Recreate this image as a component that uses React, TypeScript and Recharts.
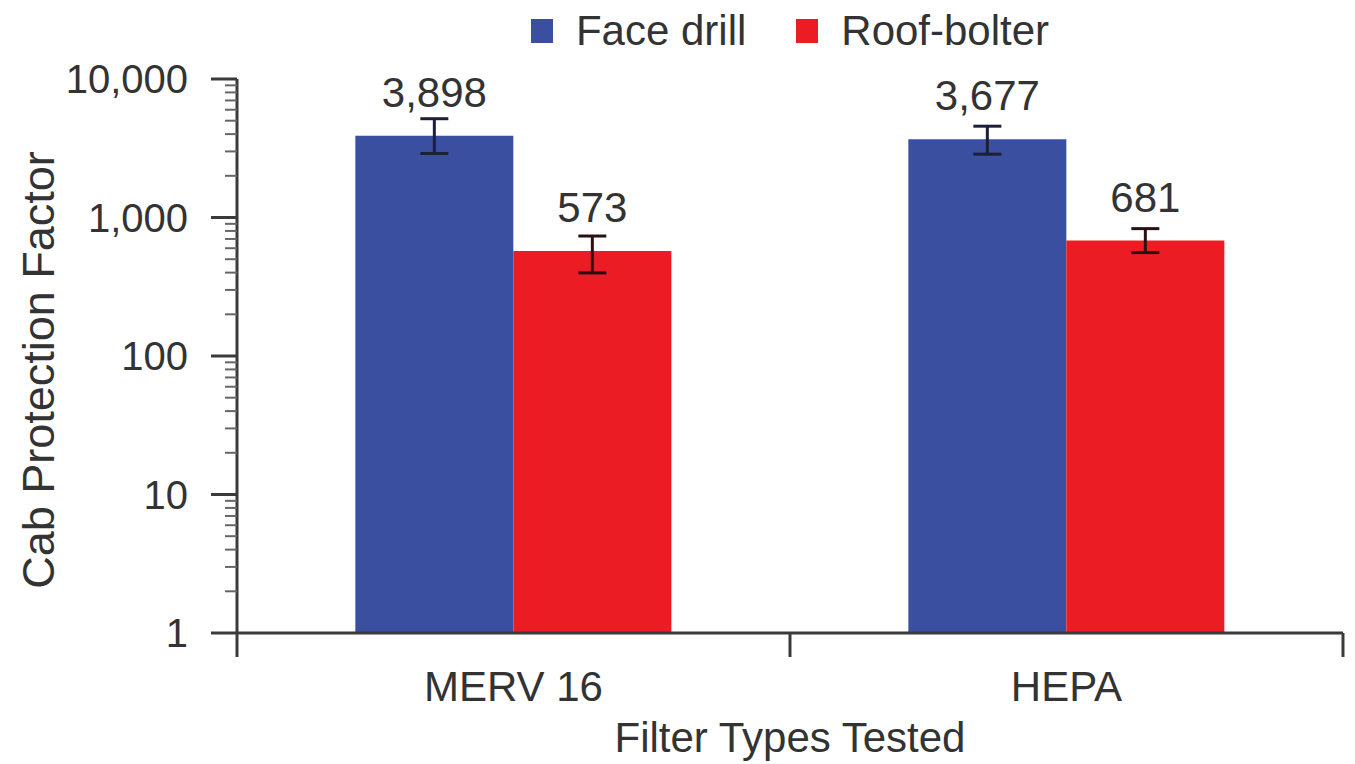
import { Bar, BarChart, ErrorBar, LabelList, Legend, XAxis, YAxis } from 'recharts';

const FILTERS = ['MERV 16', 'HEPA'];
const FACE_DRILL = [3898, 3677];
const ROOF_BOLTER = [573, 681];
// [minus, plus] spread around each mean
const FACE_DRILL_ERR = [[1000, 1270], [811, 886]];
const ROOF_BOLTER_ERR = [[175, 162], [123, 150]];

const MAJOR_TICKS = [1, 10, 100, 1000, 10000];
const MINOR_STEPS = [2, 3, 4, 5, 6, 7, 8, 9];

const WIDTH = 1355;
const HEIGHT = 764;
const MARGIN = { top: 79, right: 12, bottom: 0, left: 0 };
const Y_AXIS_WIDTH = 237;
const X_AXIS_HEIGHT = 131;
const BAND = (WIDTH - MARGIN.right - Y_AXIS_WIDTH) / FILTERS.length;

const FONT = '"Liberation Sans", Arial, Helvetica, sans-serif';
const TEXT = '#333333';
const AXIS = '#3a3a3a';
const FRAME = '#5a5a5a';
const BLUE = '#3a4fa0';
const RED = '#ec1c24';

const data = FILTERS.map((filter, i) => ({
  filter,
  faceDrill: FACE_DRILL[i],
  roofBolter: ROOF_BOLTER[i],
  faceDrillErr: FACE_DRILL_ERR[i],
  roofBolterErr: ROOF_BOLTER_ERR[i],
}));

const Y_TICKS = MAJOR_TICKS.flatMap((t, i) =>
  i < MAJOR_TICKS.length - 1 ? [t, ...MINOR_STEPS.map((s) => s * t)] : [t],
);

function LogTick({ x, y, payload }: any) {
  const major = MAJOR_TICKS.includes(payload.value);
  return (
    <g>
      <line
        x1={x - (major ? 26 : 12)}
        x2={x}
        y1={y}
        y2={y}
        stroke={major ? AXIS : '#666'}
        strokeWidth={major ? 3 : 2}
      />
      {major && (
        <text x={x - 49} y={y} dy={14} textAnchor="end" fontSize={40} fontFamily={FONT} fill={TEXT}>
          {payload.value.toLocaleString('en-US')}
        </text>
      )}
    </g>
  );
}

function CategoryTick({ x, y, payload, index, visibleTicksCount }: any) {
  const half = payload.offset || BAND / 2;
  return (
    <g>
      <line x1={x - half} x2={x - half} y1={y} y2={y + 24} stroke={AXIS} strokeWidth={3} />
      {index === visibleTicksCount - 1 && (
        <line x1={x + half} x2={x + half} y1={y} y2={y + 24} stroke={AXIS} strokeWidth={3} />
      )}
      <text x={x} y={y + 68} textAnchor="middle" fontSize={42} fontFamily={FONT} fill={TEXT}>
        {payload.value}
      </text>
    </g>
  );
}

// value printed above each bar on a white box, so it cuts through the frame line
function ValueLabel({ x, y, width, value }: any) {
  const cx = x + width / 2;
  const cy = y - 44;
  const text = Number(value).toLocaleString('en-US');
  const boxW = text.length * 22 + 26;
  return (
    <g>
      <rect x={cx - boxW / 2} y={cy - 20} width={boxW} height={40} fill="#ffffff" />
      <text x={cx} y={cy} dy={15} textAnchor="middle" fontSize={42} fontFamily={FONT} fill={TEXT}>
        {text}
      </text>
    </g>
  );
}

function YTitle({ viewBox }: any) {
  const vb = viewBox || { x: 0, y: MARGIN.top, height: HEIGHT - MARGIN.top - X_AXIS_HEIGHT };
  const cx = vb.x + 38;
  const cy = vb.y + vb.height / 2 + 14;
  return (
    <text
      x={cx}
      y={cy}
      transform={`rotate(-90 ${cx} ${cy})`}
      textAnchor="middle"
      dominantBaseline="central"
      fontSize={45}
      fontFamily={FONT}
      fill={TEXT}
    >
      Cab Protection Factor
    </text>
  );
}

function XTitle({ viewBox }: any) {
  const vb = viewBox || { x: Y_AXIS_WIDTH, y: HEIGHT - X_AXIS_HEIGHT, width: BAND * 2, height: X_AXIS_HEIGHT };
  return (
    <text
      x={vb.x + vb.width / 2}
      y={vb.y + vb.height - 12}
      textAnchor="middle"
      fontSize={42}
      fontFamily={FONT}
      fill={TEXT}
    >
      Filter Types Tested
    </text>
  );
}

function LegendContent({ payload }: any) {
  return (
    <div
      style={{
        display: 'flex',
        justifyContent: 'center',
        alignItems: 'center',
        gap: 50,
        height: 62,
        fontFamily: FONT,
        fontSize: 42,
        color: TEXT,
      }}
    >
      {(payload || []).map((p: any) => (
        <span key={p.value} style={{ display: 'flex', alignItems: 'center' }}>
          <span style={{ width: 22, height: 24, background: p.color, marginRight: 23 }} />
          {p.value}
        </span>
      ))}
    </div>
  );
}

export default function App() {
  return (
    <div style={{ position: 'absolute', top: 0, left: 0, background: '#fff' }}>
      <BarChart
        width={WIDTH}
        height={HEIGHT}
        data={data}
        margin={MARGIN}
        barCategoryGap="21.4%"
        barGap={0}
      >
        <XAxis
          dataKey="filter"
          height={X_AXIS_HEIGHT}
          tickLine={false}
          tickSize={0}
          tickMargin={0}
          tick={<CategoryTick />}
          interval={0}
          axisLine={{ stroke: AXIS, strokeWidth: 3 }}
          label={<XTitle />}
        />
        <XAxis
          xAxisId="top"
          dataKey="filter"
          orientation="top"
          height={0}
          tick={false}
          tickLine={false}
          axisLine={{ stroke: FRAME, strokeWidth: 3 }}
        />
        <YAxis
          scale="log"
          domain={[1, 10000]}
          ticks={Y_TICKS}
          interval={0}
          allowDataOverflow
          width={Y_AXIS_WIDTH}
          tickLine={false}
          tickSize={0}
          tickMargin={0}
          tick={<LogTick />}
          axisLine={{ stroke: AXIS, strokeWidth: 3 }}
          label={<YTitle />}
        />
        <YAxis
          yAxisId="right"
          orientation="right"
          width={0}
          domain={[0, 1]}
          tick={false}
          tickLine={false}
          axisLine={{ stroke: FRAME, strokeWidth: 3 }}
        />
        <Legend
          verticalAlign="middle"
          layout="horizontal"
          wrapperStyle={{ top: 0, left: Y_AXIS_WIDTH, width: BAND * 2, height: 62 }}
          content={<LegendContent />}
        />
        <Bar dataKey="faceDrill" name="Face drill" fill={BLUE} isAnimationActive={false}>
          <ErrorBar dataKey="faceDrillErr" width={14} strokeWidth={3} stroke="#1c1f3a" isAnimationActive={false} />
          <LabelList dataKey="faceDrill" content={<ValueLabel />} />
        </Bar>
        <Bar dataKey="roofBolter" name="Roof-bolter" fill={RED} isAnimationActive={false}>
          <ErrorBar dataKey="roofBolterErr" width={14} strokeWidth={3} stroke="#2a1010" isAnimationActive={false} />
          <LabelList dataKey="roofBolter" content={<ValueLabel />} />
        </Bar>
      </BarChart>
    </div>
  );
}
